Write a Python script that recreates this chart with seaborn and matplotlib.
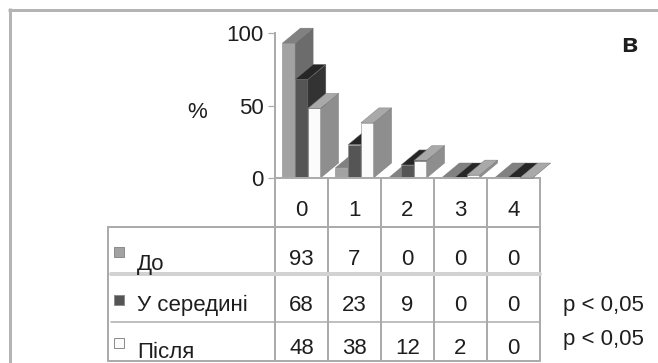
import numpy as np
import pandas as pd
import matplotlib
matplotlib.use("Agg")
import matplotlib.pyplot as plt
import seaborn as sns
from matplotlib.patches import Polygon, Rectangle
from matplotlib.colors import to_rgba

# ---- data -------------------------------------------------------------
categories = ["0", "1", "2", "3", "4"]
series_names = ["До", "У середині", "Після"]
do_values = [93, 7, 0, 0, 0]
mid_values = [68, 23, 9, 0, 0]
after_values = [48, 38, 12, 2, 0]
y_ticks = [0, 50, 100]
p_labels = ["p < 0,05", "p < 0,05"]
panel_label = "в"

# ---- style ------------------------------------------------------------
front_colors = ["#a2a2a2", "#555555", "#fbfbfb"]
side_colors = ["#6c6c6c", "#333333", "#8e8e8e"]
top_colors = ["#818181", "#262626", "#a9a9a9"]
grid_grey = "#ababab"
text_col = "#1e1e1e"
FS = 16

W, H, DPI = 658, 363, 100
sns.set_theme(style="white")
plt.rcParams["font.family"] = ["Liberation Sans", "DejaVu Sans"]

fig = plt.figure(figsize=(W / DPI, H / DPI), dpi=DPI)


def px_rect(left, top, right, bottom):
    return [left / W, 1 - bottom / H, (right - left) / W, (bottom - top) / H]


def lw(px):
    return px * 72 / DPI


# overlay axes in pixel coordinates (frame, table, notes)
ov = fig.add_axes([0, 0, 1, 1])
ov.set_xlim(0, W)
ov.set_ylim(H, 0)
ov.axis("off")

# ---- bar chart ----------------------------------------------------------
AX_L, AX_T, AX_R, AX_B = 275, 33, 540, 178
ax = fig.add_axes(px_rect(AX_L, AX_T, AX_R, AX_B))
df = pd.DataFrame({
    "category": categories * 3,
    "series": np.repeat(series_names, len(categories)),
    "value": do_values + mid_values + after_values,
})
sns.barplot(data=df, x="category", y="value", hue="series",
            order=categories, hue_order=series_names, palette=front_colors,
            saturation=1, width=0.72, errorbar=None, legend=False,
            edgecolor="#8a8a8a", linewidth=0.4, ax=ax)
ax.set_xlim(-0.5, len(categories) - 0.5)
ax.set_ylim(0, 100)

# faux depth: offset of the back faces, in data units
dxu = 18 * len(categories) / (AX_R - AX_L)
dyu = 15 * 100 / (AX_B - AX_T)

front_rgba = [to_rgba(c) for c in front_colors]
for bar in list(ax.patches):
    fc = bar.get_facecolor()
    k = int(np.argmin([np.sum((np.array(fc) - np.array(c)) ** 2) for c in front_rgba]))
    x0 = bar.get_x()
    x1 = x0 + bar.get_width()
    h = bar.get_height()
    z = 2 + (x0 + 1) * 0.1
    bar.set_zorder(z)
    bar.set_clip_on(False)
    side = Polygon([(x1, 0), (x1 + dxu, dyu), (x1 + dxu, h + dyu), (x1, h)],
                   closed=True, facecolor=side_colors[k], edgecolor="#777777",
                   linewidth=0.3, zorder=z, clip_on=False)
    top = Polygon([(x0, h), (x1, h), (x1 + dxu, h + dyu), (x0 + dxu, h + dyu)],
                  closed=True, facecolor=top_colors[k], edgecolor="#777777",
                  linewidth=0.3, zorder=z, clip_on=False)
    ax.add_patch(side)
    ax.add_patch(top)

for s in ["top", "right"]:
    ax.spines[s].set_visible(False)
for s in ["left", "bottom"]:
    ax.spines[s].set_color(grid_grey)
    ax.spines[s].set_linewidth(lw(2))
ax.set_yticks(y_ticks)
ax.set_yticklabels([str(t) for t in y_ticks], fontsize=FS, color=text_col)
ax.tick_params(axis="y", left=True, length=5, width=lw(1.2), color=grid_grey, pad=3)
ax.tick_params(axis="x", bottom=False, labelbottom=False)
ax.set_xlabel("")
ax.set_ylabel("")
ax.patch.set_alpha(0)

ov.text(197, 112, "%", ha="center", va="center", fontsize=FS, color=text_col)
ov.text(629, 52, panel_label, ha="center", va="baseline", fontsize=19,
        fontweight="bold", color=text_col)

# ---- outer frame ----------------------------------------------------------
frame_col = "#b4b4b4"
ov.plot([8, W], [9.5, 9.5], color=frame_col, lw=lw(3), solid_capstyle="butt")
ov.plot([9.5, 9.5], [8, H], color=frame_col, lw=lw(3), solid_capstyle="butt")

# ---- data table -------------------------------------------------------------
col_edges = np.linspace(AX_L, AX_R, len(categories) + 1)
col_mid = (col_edges[:-1] + col_edges[1:]) / 2
TBL_L, HDR_B, TBL_B = 108, 227, 361
row_lines = [274, 322]

for x in col_edges:
    ov.plot([x, x], [AX_B, TBL_B], color=grid_grey, lw=lw(2), zorder=1)
ov.plot([TBL_L, AX_R], [HDR_B, HDR_B], color=grid_grey, lw=lw(2))
ov.plot([TBL_L, TBL_L], [HDR_B, TBL_B], color=grid_grey, lw=lw(2))
ov.plot([TBL_L, AX_R], [TBL_B, TBL_B], color=grid_grey, lw=lw(2))
ov.plot([TBL_L + 3, AX_R], [row_lines[0], row_lines[0]], color="#d2d2d2", lw=lw(4))
ov.plot([TBL_L + 3, AX_R], [row_lines[1], row_lines[1]], color=grid_grey, lw=lw(1.5))

for xm, lab in zip(col_mid, categories):
    ov.text(xm, 216, lab, ha="center", va="baseline", fontsize=FS, color=text_col)

value_rows = [do_values, mid_values, after_values]
value_base = [265, 311, 354]
label_base = [270, 311, 358]
square_top = [247, 295, 338]
for k, (name, vals) in enumerate(zip(series_names, value_rows)):
    ov.add_patch(Rectangle((114, square_top[k]), 10, 10, facecolor=front_colors[k],
                           edgecolor="#8c8c8c", linewidth=lw(1)))
    ov.text(137, label_base[k], name, ha="left", va="baseline", fontsize=FS,
            color=text_col)
    for xm, v in zip(col_mid, vals):
        ov.text(xm, value_base[k], str(v), ha="center", va="baseline",
                fontsize=FS, color=text_col)

for base, txt in zip([311, 345], p_labels):
    ov.text(563, base, txt, ha="left", va="baseline", fontsize=FS, color=text_col)

fig.savefig("out.png", dpi=DPI)
